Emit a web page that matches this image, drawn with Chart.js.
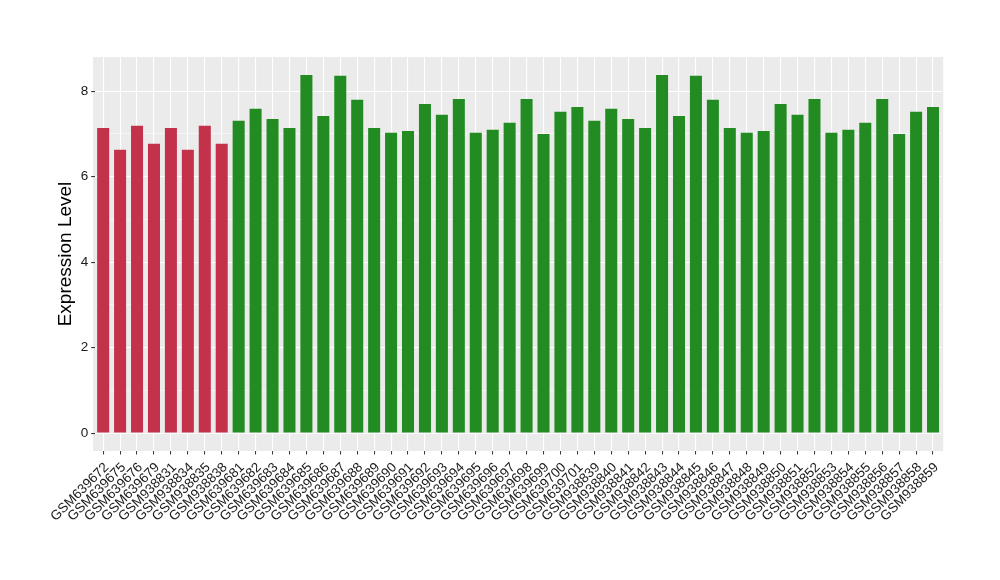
<!DOCTYPE html>
<html>
<head>
<meta charset="utf-8">
<script src="https://cdn.jsdelivr.net/npm/chart.js@4.4.0/dist/chart.umd.min.js"></script>
<style>
  html, body { margin: 0; padding: 0; background: #fff; }
  #wrap { width: 1000px; height: 580px; }
</style>
</head>
<body>
<div id="wrap"><canvas id="chart" width="1000" height="580"></canvas></div>
<script>
// sample ids and expression values
const controlSamples = ['GSM639672', 'GSM639675', 'GSM639676', 'GSM639679', 'GSM938831', 'GSM938834', 'GSM938835', 'GSM938838'];
const controlValues = [7.14, 6.63, 7.19, 6.77, 7.14, 6.63, 7.19, 6.77];

const caseSamples = [
    'GSM639681', 'GSM639682', 'GSM639683', 'GSM639684', 'GSM639685', 'GSM639686', 'GSM639687',
    'GSM639688', 'GSM639689', 'GSM639690', 'GSM639691', 'GSM639692', 'GSM639693', 'GSM639694',
    'GSM639695', 'GSM639696', 'GSM639697', 'GSM639698', 'GSM639699', 'GSM639700', 'GSM639701',
    'GSM938839', 'GSM938840', 'GSM938841', 'GSM938842', 'GSM938843', 'GSM938844', 'GSM938845',
    'GSM938846', 'GSM938847', 'GSM938848', 'GSM938849', 'GSM938850', 'GSM938851', 'GSM938852',
    'GSM938853', 'GSM938854', 'GSM938855', 'GSM938856', 'GSM938857', 'GSM938858', 'GSM938859'
];
const caseValues = [
    7.31, 7.59, 7.35, 7.14, 8.38, 7.42, 8.36, 7.80, 7.14, 7.03, 7.07, 7.70, 7.45, 7.82,
    7.03, 7.10, 7.26, 7.82, 7.00, 7.52, 7.63,
    7.31, 7.59, 7.35, 7.14, 8.38, 7.42, 8.36, 7.80, 7.14, 7.03, 7.07, 7.70, 7.45, 7.82,
    7.03, 7.10, 7.26, 7.82, 7.00, 7.52, 7.63
];

const yTicks = [0, 1, 2, 3, 4, 5, 6, 7, 8];
const yMin = -0.42, yMax = 8.8;

const RED = '#C3314A', GREEN = '#228B22';
const FONT = '"Liberation Sans", Arial, Helvetica, sans-serif';

const labels = controlSamples.concat(caseSamples);
const values = controlValues.concat(caseValues);
const colors = labels.map((_, i) => i < controlSamples.length ? RED : GREEN);

// grey ggplot-like panel behind the grid
const panelBg = {
    id: 'panelBg',
    beforeDraw(chart) {
        const a = chart.chartArea, c = chart.ctx;
        const ext = 0.1 * (a.right - a.left) / labels.length;
        c.save();
        c.fillStyle = '#EBEBEB';
        c.fillRect(a.left - ext, a.top, a.right - a.left + 2 * ext, a.bottom - a.top);
        c.restore();
    }
};

new Chart(document.getElementById('chart'), {
    type: 'bar',
    data: {
        labels: labels,
        datasets: [{ data: values, backgroundColor: colors, borderWidth: 0, barPercentage: 0.71, categoryPercentage: 1.0 }]
    },
    options: {
        responsive: false, animation: false,
        layout: { padding: { left: 0, right: 58.5, top: 57, bottom: 0 } },
        plugins: { legend: { display: false }, tooltip: { enabled: false } },
        scales: {
            x: {
                offset: true,
                afterFit: s => { s.height = 129; },
                grid: { offset: false, color: '#FFFFFF', lineWidth: 1.1, tickLength: 3.5, tickColor: '#333333', tickWidth: 1 },
                border: { display: false },
                ticks: { autoSkip: false, minRotation: 45, maxRotation: 45, padding: 5, labelOffset: 3.5, color: '#1a1a1a', font: { family: FONT, size: 13.5 } }
            },
            y: {
                min: yMin, max: yMax,
                afterFit: s => { s.width = 94.7; },
                afterBuildTicks: s => { s.ticks = yTicks.map(v => ({ value: v })); },
                grid: {
                    color: '#FFFFFF',
                    lineWidth: c => (c.tick && c.tick.value % 2 === 0) ? 1.1 : 0.55,
                    tickLength: 3.5,
                    tickColor: c => (c.tick && c.tick.value % 2 === 0) ? '#333333' : 'rgba(0,0,0,0)'
                },
                border: { display: false },
                ticks: {
                    padding: 3, color: '#1a1a1a', font: { family: FONT, size: 13.5 },
                    callback: v => v % 2 === 0 ? String(v) : ''
                },
                title: { display: true, text: 'Expression Level', color: '#000', font: { family: FONT, size: 19 }, padding: { top: 54, bottom: 0 } }
            }
        }
    },
    plugins: [panelBg]
});
</script>
</body>
</html>
